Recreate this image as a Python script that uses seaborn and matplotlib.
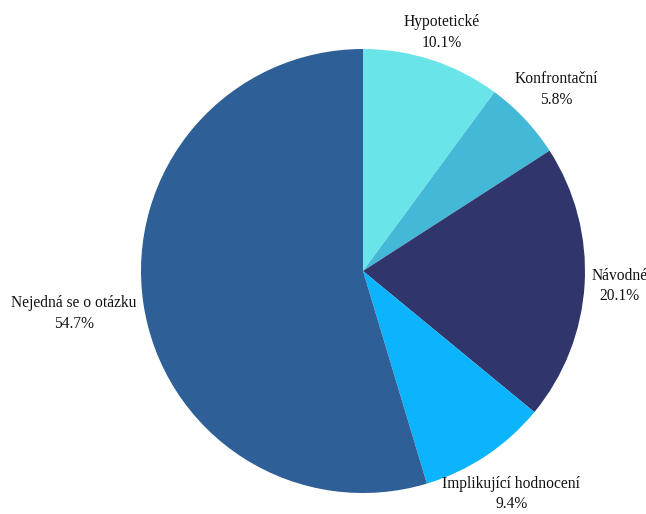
import numpy as np
import matplotlib
matplotlib.use("Agg")
import matplotlib.pyplot as plt
import seaborn as sns

# Question types and their shares (%)
categories = ["Hypotetické", "Konfrontační", "Návodné", "Implikující hodnocení", "Nejedná se o otázku"]
shares = [10.1, 5.8, 20.1, 9.4, 54.7]
colors = ["#69E5EA", "#43B8D7", "#30356B", "#0CB4FE", "#2E5F97"]

sns.set_theme(style="white")
plt.rcParams["font.family"] = ["Liberation Serif", "DejaVu Serif"]

W, H = 646, 514
fig = plt.figure(figsize=(W / 100, H / 100), dpi=100)
cx, cy, R = 363, 271, 222
ax = fig.add_axes([(cx - R) / W, (H - cy - R) / H, 2 * R / W, 2 * R / H])

wedges, _ = ax.pie(shares, colors=colors, startangle=90, counterclock=False,
                   radius=1.0, wedgeprops=dict(linewidth=0))
ax.set_xlim(-1, 1)
ax.set_ylim(-1, 1)
ax.set_aspect("auto")
ax.axis("off")

# Labels sit just outside the rim, centred on each slice's mid-angle
texts = []
for w, name, val in zip(wedges, categories, shares):
    t = ax.text(0, 0, f"{name}\n{val:.1f}%", ha="center", va="center",
                fontsize=11.2, color="#111111", linespacing=1.38, clip_on=False)
    texts.append((w, t))

fig.canvas.draw()
renderer = fig.canvas.get_renderer()
for w, t in texts:
    mid = np.deg2rad((w.theta1 + w.theta2) / 2)
    ux, uy = np.cos(mid), np.sin(mid)
    bb = t.get_window_extent(renderer)
    hw = bb.width / 2 / R
    hh = bb.height / 2 / R
    if abs(ux) > 0.9:
        pad = 1.025
    elif uy < -0.5:
        pad = 0.965  # keep the bottom label inside the canvas
    else:
        pad = 1.0
    d = pad + hw * abs(ux) + hh * abs(uy)
    t.set_position((d * ux, d * uy))

fig.savefig("out.png", dpi=100, facecolor="white")
